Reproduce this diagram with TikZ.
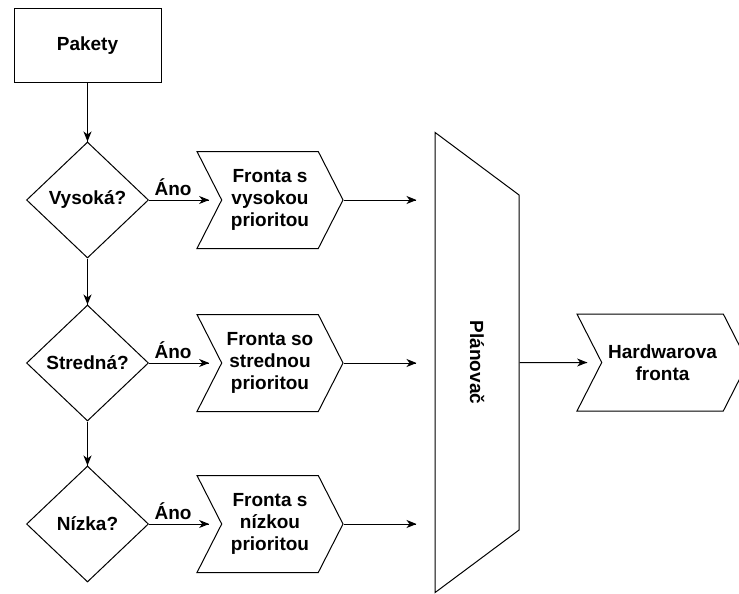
\documentclass[tikz,border=0pt]{standalone}
\usepackage{fontspec}
\setmainfont{Liberation Sans}
\usepackage{tikz}
\usetikzlibrary{arrows.meta}
\usetikzlibrary{shapes.geometric}
\usetikzlibrary{shapes.symbols}
\usetikzlibrary{decorations.markings}
\usetikzlibrary{positioning}
\tikzset{
  >={Stealth[length=10pt,width=8pt,inset=3pt]},
  sipka/.style={
    line width=1pt,
    postaction={decorate, decoration={
      markings,
      mark=at position 1 with {\arrow{>}}
    }}
  }
}
\begin{document}
\begin{tikzpicture}[x=1pt, y=1pt, line width=1pt, font=\fontsize{19}{22}\selectfont\bfseries] % Štýly uzlov
\useasboundingbox (0,0) rectangle (739,-594);
\tikzstyle{zdroj} = [rectangle, draw, minimum width=147pt, minimum height=74pt] \tikzstyle{otazka} = [diamond, draw, inner sep=0pt, minimum width=122pt, minimum height=116pt] \tikzstyle{fronta} = [signal, draw, signal to=east, signal from=west, signal pointer angle=126, inner sep=0pt, minimum width=146pt, minimum height=97pt, align=center] % Zdroj a rozhodovanie
\node (pakety) [zdroj] at (87.5,-46) {Pakety}; \node (vysoka) [otazka, below of=pakety, node distance=154pt] {Vysoká?}; \node (stredna) [otazka, below of=vysoka, node distance=163pt] {Stredná?}; \node (nizka) [otazka, below of=stredna, node distance=161pt] {Nízka?}; % Fronty
\node (q1) [fronta, right of=vysoka, node distance=182.5pt] {Fronta s\\vysokou\\prioritou}; \node (q2) [fronta, right of=stredna, node distance=182.5pt] {Fronta so\\strednou\\prioritou}; \node (q3) [fronta, right of=nizka, node distance=182.5pt] {Fronta s\\nízkou\\prioritou}; % Plánovač a hardvérová fronta
\node (planovac) [trapezium, draw, rotate=-90, trapezium stretches=true, trapezium left angle=42.7, trapezium right angle=42.7, minimum width=461pt, minimum height=84pt, inner sep=0pt] at ([xshift=207pt, yshift=0.5pt]q2.center) {Plánovač}; \node (hw) [fronta, minimum width=171pt, right of=planovac, node distance=185.5pt] {Hardwarova\\fronta};
\coordinate (vstup) at ([xshift=-18pt]planovac.south);
% Šípky medzi uzlami
\draw[sipka] (pakety.south) -- (vysoka.north); \draw[sipka] (vysoka.south) -- (stredna.north); \draw[sipka] (stredna.south) -- (nizka.north);
\draw[sipka] (vysoka.east) -- node[above, pos=0.4, inner sep=4pt] {Áno} ([xshift=-12pt]q1.west); \draw[sipka] (stredna.east) -- node[above, pos=0.4, inner sep=4pt] {Áno} ([xshift=-12pt]q2.west); \draw[sipka] (nizka.east) -- node[above, pos=0.4, inner sep=4pt] {Áno} ([xshift=-12pt]q3.west);
\foreach \i in {1,2,3}{ \draw[sipka] (q\i.east) -- (q\i.east -| vstup); }
\draw[sipka] (planovac.north) -- ([xshift=-14pt]hw.west);
\end{tikzpicture}
\end{document}
